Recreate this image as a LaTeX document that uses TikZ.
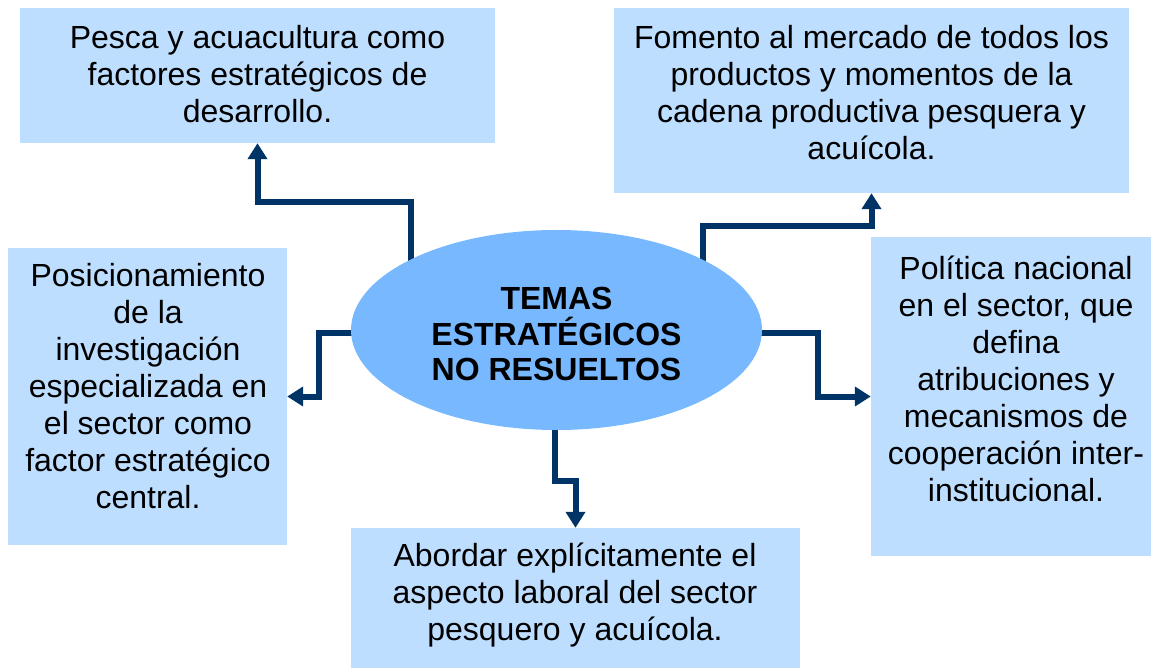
\documentclass[tikz,border=0pt]{standalone}
\usepackage{fontspec}
\setmainfont{Liberation Sans}
\usetikzlibrary{arrows.meta,shapes.geometric}
\definecolor{boxfill}{HTML}{BDDEFF}
\definecolor{ellfill}{HTML}{78B8FF}
\definecolor{navy}{HTML}{003366}
\tikzset{
  box/.style={draw=none, fill=boxfill, inner sep=0pt},
  txt/.style={align=center, inner sep=0pt, font=\fontsize{32}{37}\selectfont},
  conn/.style={draw=navy, line width=6pt, line cap=butt, line join=miter, -{Triangle[width=19pt,length=16pt]}},
}
\begin{document}
\begin{tikzpicture}[x=1pt,y=-1pt]
\useasboundingbox (0,0) rectangle (1151,668);
% boxes
\node[box, minimum width=475pt, minimum height=135pt] (b1) at (257.5,75.5) {};
\node[box, minimum width=515pt, minimum height=185pt] (b2) at (871.5,100.5) {};
\node[box, minimum width=279pt, minimum height=297pt] (b3) at (147.5,396.5) {};
\node[box, minimum width=280pt, minimum height=319pt] (b4) at (1011,396.5) {};
\node[box, minimum width=449pt, minimum height=140pt] (b5) at (575.5,598) {};
% texts
\node[txt] (t1) at (257.5,74) {Pesca y acuacultura como\\factores estratégicos de\\desarrollo.};
\node[txt] (t2) at (871.5,93) {Fomento al mercado de todos los\\productos y momentos de la\\cadena productiva pesquera y\\acuícola.};
\node[txt] (t3) at (148,386) {Posicionamiento\\de la\\investigación\\especializada en\\el sector como\\factor estratégico\\central.};
\node[txt] (t4) at (1016,379) {Política nacional\\en el sector, que\\defina\\atribuciones y\\mecanismos de\\cooperación inter-\\institucional.};
\node[txt] (t5) at (575,595) {Abordar explícitamente el\\aspecto laboral del sector\\pesquero y acuícola.};
% connector start points
\coordinate (s1) at (411,262);
\coordinate (s2) at (703,262);
\coordinate (s3) at (355,333);
\coordinate (s4) at (555,426);
\coordinate (s5) at (758,333);
\draw[conn] (s1) -- (411,202) -| (b1.south);
\draw[conn] (s2) -- (703,226) -| (b2.south);
\draw[conn] (s3) -- (319,333) |- (b3.east);
\draw[conn] (s4) -- (555,481) -| (b5.north);
\draw[conn] (s5) -- (818,333) |- (b4.west);
% ellipse
\node[ellipse, fill=ellfill, draw=none, minimum width=411pt, minimum height=200pt, inner sep=0pt] (e) at (556.5,330) {};
\node[align=center, inner sep=0pt, font=\fontsize{32}{35.5}\selectfont\bfseries] (et) at (556.5,334) {TEMAS\\ESTRATÉGICOS\\NO RESUELTOS};
\end{tikzpicture}
\end{document}
